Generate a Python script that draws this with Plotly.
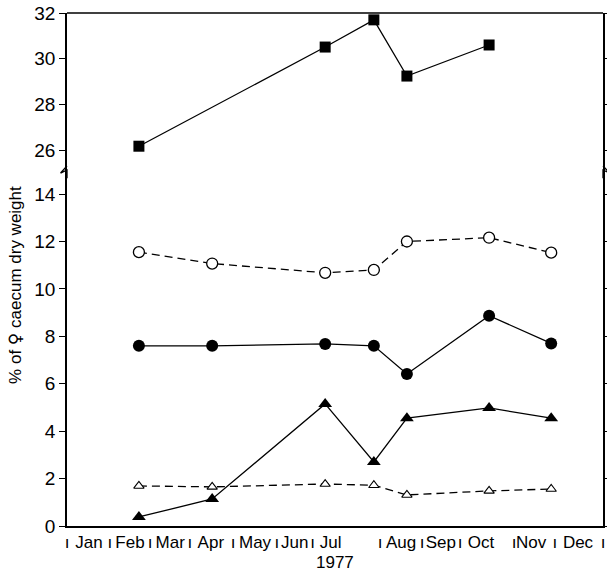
import plotly.graph_objects as go

# ---- data (x in month units: 0 = start of Jan, 12 = end of Dec) ----
x_dates = [1.61, 3.25, 5.78, 6.87, 7.61, 9.45, 10.84]

sq_x = [1.61, 5.78, 6.87, 7.61, 9.45]
sq_y = [26.17, 30.51, 31.70, 29.24, 30.60]

open_circ_y = [11.55, 11.07, 10.68, 10.80, 12.00, 12.16, 11.53]
fill_circ_y = [7.60, 7.60, 7.68, 7.60, 6.41, 8.87, 7.70]
fill_tri_y = [0.38, 1.14, 5.15, 2.70, 4.55, 4.98, 4.55]
open_tri_y = [1.69, 1.65, 1.77, 1.72, 1.31, 1.48, 1.56]

months = ["Jan", "Feb", "Mar", "Apr", "May", "Jun", "Jul", "Aug", "Sep", "Oct", "Nov", "Dec"]
month_pos = [0.49, 1.41, 2.31, 3.22, 4.21, 5.10, 5.90, 7.48, 8.37, 9.27, 10.39, 11.44]
sep_pos = [0.0, 0.96, 1.86, 2.75, 3.72, 4.70, 5.50, 7.01, 7.95, 8.80, 10.01, 10.92, 12.0]

top_ticks = [26, 28, 30, 32]
bottom_ticks = [0, 2, 4, 6, 8, 10, 12, 14]

FONT = "Liberation Sans"
LW = 1.3

fig = go.Figure()

fig.add_trace(go.Scatter(x=sq_x, y=sq_y, yaxis="y2", mode="lines+markers",
                         line=dict(color="black", width=LW),
                         marker=dict(symbol="square", size=11, color="black")))
fig.add_trace(go.Scatter(x=x_dates, y=open_circ_y, mode="lines+markers",
                         line=dict(color="black", width=LW, dash="8px,5px"),
                         marker=dict(symbol="circle", size=11, color="white",
                                     line=dict(color="black", width=1.3))))
fig.add_trace(go.Scatter(x=x_dates, y=fill_circ_y, mode="lines+markers",
                         line=dict(color="black", width=LW),
                         marker=dict(symbol="circle", size=12, color="black")))
fig.add_trace(go.Scatter(x=x_dates, y=fill_tri_y, mode="lines+markers",
                         line=dict(color="black", width=LW),
                         marker=dict(symbol="triangle-up", size=12, color="black")))
fig.add_trace(go.Scatter(x=x_dates, y=open_tri_y, mode="lines+markers",
                         line=dict(color="black", width=LW, dash="8px,5px"),
                         marker=dict(symbol="triangle-up", size=9, color="white",
                                     line=dict(color="black", width=1.1))))

tickvals = month_pos + sep_pos
ticktext = months + ["ı"] * len(sep_pos)

break_frac = 0.69

fig.update_layout(
    width=607, height=576,
    margin=dict(l=67, r=4, t=13, b=50, autoexpand=False),
    paper_bgcolor="white", plot_bgcolor="white",
    showlegend=False,
    font=dict(family=FONT, color="black"),
    xaxis=dict(range=[0, 12], showgrid=False, zeroline=False, automargin=False,
               showline=True, linecolor="black", linewidth=1.5,
               tickmode="array", tickvals=tickvals, ticktext=ticktext,
               ticks="", tickfont=dict(size=17, family=FONT),
               ticklabeloverflow="allow", anchor="y"),
    yaxis=dict(domain=[0, break_frac], range=[0, 14.93], showgrid=False, zeroline=False,
               automargin=False,
               showline=True, linecolor="black", linewidth=1.5, mirror="allticks",
               tickmode="array", tickvals=bottom_ticks,
               ticks="outside", ticklen=6, tickcolor="black", tickwidth=1.2,
               ticklabeloverflow="allow",
               tickfont=dict(size=19, family=FONT)),
    yaxis2=dict(domain=[break_frac, 1], range=[25.04, 32], showgrid=False, zeroline=False,
                automargin=False,
                showline=True, linecolor="black", linewidth=1.5, mirror="allticks",
                tickmode="array", tickvals=top_ticks,
                ticks="outside", ticklen=6, tickcolor="black", tickwidth=1.2,
                ticklabeloverflow="allow",
                tickfont=dict(size=19, family=FONT), anchor="x"),
)

# top frame line
fig.add_shape(type="line", xref="paper", yref="paper", x0=0, x1=1, y0=1, y1=1,
              line=dict(color="black", width=1.5))

# axis break zigzags (left and right)
for xp, sgn in [(0, -1), (1, 1)]:
    fig.add_shape(type="path", xref="paper", yref="paper",
                  path=(f"M {xp} {break_frac + 0.012} "
                        f"L {xp + sgn * 0.012} {break_frac - 0.002} "
                        f"L {xp} {break_frac + 0.004} "
                        f"L {xp} {break_frac - 0.012}"),
                  line=dict(color="black", width=1.3))

fig.add_annotation(text="1977", xref="paper", yref="paper",
                   x=0.5, y=-0.072, showarrow=False,
                   font=dict(size=17, family=FONT), xanchor="center", yanchor="middle")

fig.add_annotation(text="% of <span style='font-family:DejaVu Sans'>♀</span> caecum dry weight",
                   xref="paper", yref="paper",
                   x=-0.097, y=0.47, textangle=-90, showarrow=False,
                   font=dict(size=17, family=FONT), xanchor="center", yanchor="middle")

fig.write_html("out.html", config={"displayModeBar": False},
               post_script="document.body.style.margin='0';document.body.style.overflow='hidden';")
